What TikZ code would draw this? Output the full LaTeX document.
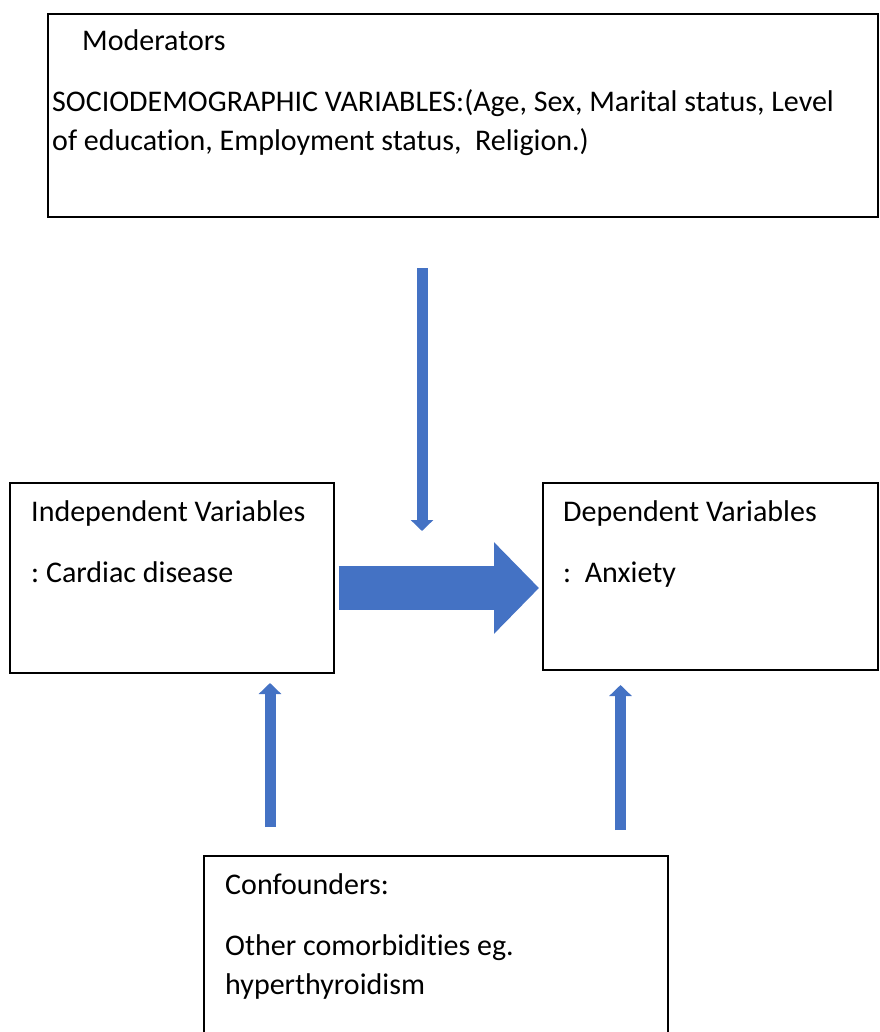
\documentclass[tikz,border=0pt]{standalone}
\usepackage{fontspec}
\setmainfont{Carlito}[Ligatures=NoCommon]
\usetikzlibrary{arrows.meta}
\definecolor{arrowblue}{HTML}{4472C4}
\frenchspacing

\begin{document}
\begin{tikzpicture}[x=1pt,y=-1pt,
   box/.style={draw,line width=1.6pt,anchor=north west,inner sep=0pt},
   txt/.style={anchor=base west,inner sep=0pt,font=\fontsize{30}{39}\selectfont},
   thinarrow/.style={draw=arrowblue,line width=11pt,-{Triangle[width=22pt,length=11pt]}},
   bigarrow/.style={draw=arrowblue,line width=44pt,-{Triangle[width=89pt,length=45pt]}}]
   \useasboundingbox (0,0) rectangle (879,1032);

   % boxes
   \node[box,minimum width=830pt,minimum height=203pt] (moder) at (47,13) {};
   \node[box,minimum width=324pt,minimum height=190pt] (indep) at (9,482) {};
   \node[box,minimum width=335pt,minimum height=187pt] (dep) at (542,482) {};
   \node[box,minimum width=464pt,minimum height=190pt] (confound) at (203,855) {};

   % texts
   \node[txt] (modtitle) at (82,51) {Moderators};
   \node[txt] (modline1) at (52,112) {SOCIODEMOGRAPHIC VARIABLES:(Age, Sex, Marital status, Level};
   \node[txt] (modline2) at (52,151) {of education, Employment status,\ \ Religion.)};
   \node[txt] (indtitle) at (31,521) {Independent Variables};
   \node[txt] (indtext) at (31,582) {: Cardiac disease};
   \node[txt] (deptitle) at (563,521) {Dependent Variables};
   \node[txt] (deptext) at (563,582) {:\ \ Anxiety};
   \node[txt] (contitle) at (225,894) {Confounders:};
   \node[txt] (conline1) at (225,955) {Other comorbidities eg.};
   \node[txt] (conline2) at (225,994) {hyperthyroidism};

   % arrows
   \coordinate (modstart) at (422,268);
   \coordinate (modend) at (422,531);
   \coordinate (midline) at (0,588);
   \coordinate (leftstart) at (270,827);
   \coordinate (leftend) at (270,683);
   \coordinate (rightstart) at (620.5,830);
   \coordinate (rightend) at (620.5,685);

   \draw[thinarrow] (modstart) -- (modend);
   \draw[bigarrow,shorten <=4pt,shorten >=3pt] (indep.east |- midline) -- (dep.west |- midline);
   \draw[thinarrow] (leftstart) -- (leftend);
   \draw[thinarrow] (rightstart) -- (rightend);
\end{tikzpicture}
\end{document}
